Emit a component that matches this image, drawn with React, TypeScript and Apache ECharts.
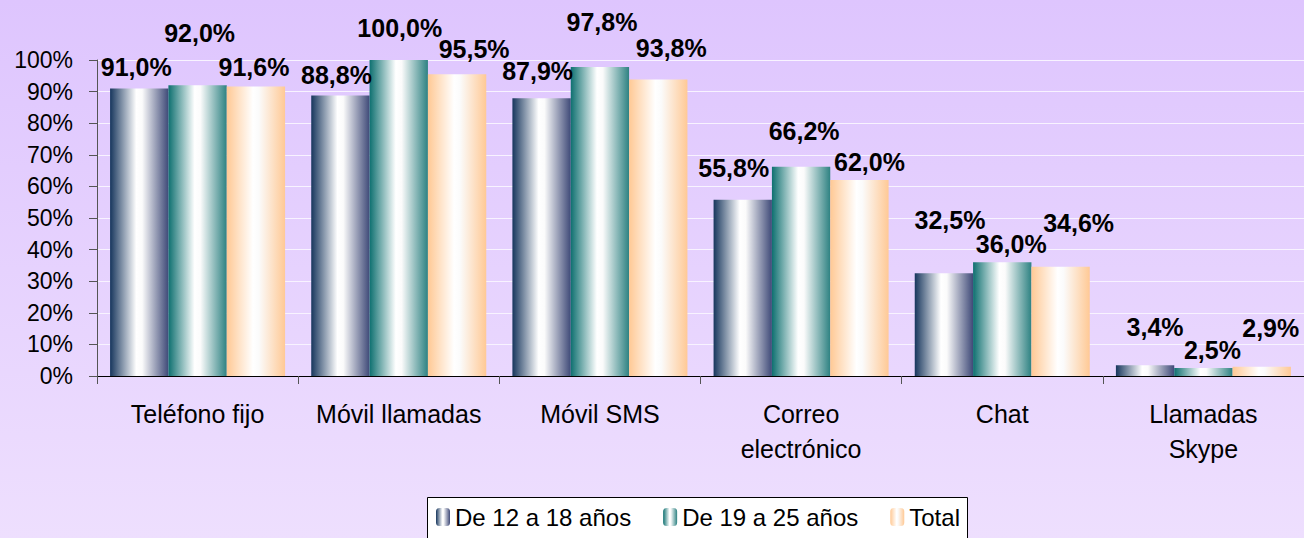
import React, { useEffect, useRef } from "react";
import * as echarts from "echarts";

const categories = ["Teléfono fijo", "Móvil llamadas", "Móvil SMS", "Correo\nelectrónico", "Chat", "Llamadas\nSkype"];
const seriesNames = ["De 12 a 18 años", "De 19 a 25 años", "Total"];
const young = [91.0, 88.8, 87.9, 55.8, 32.5, 3.4];
const adult = [92.0, 100.0, 97.8, 66.2, 36.0, 2.5];
const total = [91.6, 95.5, 93.8, 62.0, 34.6, 2.9];

// label offsets (layout only) [dx, dy]
const youngOffsets = [[-3, -4], [-4, -3], [-4, -10], [-9, -14], [6, -36], [10, -21]];
const adultOffsets = [[2, -35], [1, -15], [2, -27], [3, -18], [9, -1], [9, -1]];
const totalOffsets = [[-2, -2], [17, -8], [13, -14], [10, -1], [18, -26], [9, -21]];

const FONT = "'Liberation Sans', Arial, sans-serif";

function grad(edgeL: string, edgeR: string) {
  return new echarts.graphic.LinearGradient(0, 0, 1, 0, [
    { offset: 0, color: edgeL },
    { offset: 0.45, color: "#ffffff" },
    { offset: 0.55, color: "#fbfbfb" },
    { offset: 1, color: edgeR },
  ]);
}

function fmt(v: number) {
  return v.toFixed(1).replace(".", ",") + "%";
}

export default function App() {
  const ref = useRef<HTMLDivElement>(null);
  useEffect(() => {
    if (!ref.current) return;
    const chart = echarts.init(ref.current, undefined, { renderer: "svg" });
    const colors = [grad("#17365D", "#3F4A78"), grad("#0E7070", "#2E8282"), grad("#FFC995", "#FFC995")];
    const mk = (vals: number[], offs: number[][]) =>
      vals.map((v, i) => ({ value: v, label: { offset: offs[i] } }));
    const datasets = [mk(young, youngOffsets), mk(adult, adultOffsets), mk(total, totalOffsets)];
    chart.setOption({
      animation: false,
      backgroundColor: new echarts.graphic.LinearGradient(0, 0, 0, 1, [
        { offset: 0, color: "#DEC5FE" },
        { offset: 1, color: "#EEDFFE" },
      ]),
      textStyle: { fontFamily: FONT },
      grid: { left: 97, right: 0, top: 60, bottom: 162, containLabel: false },
      graphic: [
        {
          type: "rect",
          left: 427,
          top: 497,
          shape: { width: 540, height: 60 },
          style: { fill: "#ffffff", stroke: "#000000", lineWidth: 1 },
          z: 0,
        },
      ],
      legend: {
        left: 436,
        top: 505,
        itemWidth: 14,
        itemHeight: 18,
        itemGap: 32,
        padding: 0,
        textStyle: { fontSize: 24, color: "#000", fontFamily: FONT },
        data: seriesNames,
        z: 10,
      },
      xAxis: {
        type: "category",
        data: categories,
        axisLine: { lineStyle: { color: "#000", width: 1 } },
        axisTick: { show: true, length: 8, lineStyle: { color: "#555" } },
        axisLabel: { fontSize: 25, color: "#000", margin: 20, lineHeight: 35, fontFamily: FONT, interval: 0 },
      },
      yAxis: {
        type: "value",
        min: 0,
        max: 100,
        interval: 10,
        axisLine: { show: true, lineStyle: { color: "#555" } },
        axisTick: { show: true, length: 8, lineStyle: { color: "#555" } },
        axisLabel: { fontSize: 23, color: "#000", margin: 24, formatter: "{value}%", fontFamily: FONT },
        splitLine: { lineStyle: { color: "#F8F3FF", width: 1 } },
      },
      series: seriesNames.map((name, k) => ({
        name,
        type: "bar",
        barGap: "0%",
        barCategoryGap: "13%",
        data: datasets[k],
        itemStyle: { color: colors[k] },
        label: {
          show: true,
          position: "top",
          fontSize: 25,
          fontWeight: "bold",
          color: "#000",
          fontFamily: FONT,
          formatter: (p: any) => fmt(p.value),
        },
      })),
    });
    return () => chart.dispose();
  }, []);
  return <div ref={ref} style={{ position: "fixed", left: 0, top: 0, width: 1304, height: 538 }} />;
}
